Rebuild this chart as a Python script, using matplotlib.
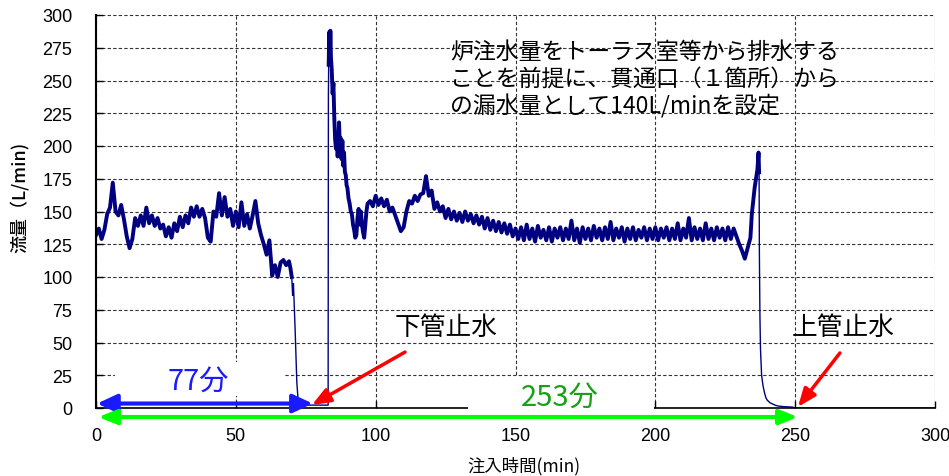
import numpy as np
import matplotlib.pyplot as plt
from matplotlib.patches import Rectangle

plt.rcParams['font.family'] = ['Noto Sans CJK JP', 'DejaVu Sans']

# 注水開始～下管止水 (1分毎)
time_a = list(range(0, 70))
flow_a = [132, 137, 129, 136, 148, 153, 172, 150, 147, 155,
          144, 131, 122, 129, 145, 139, 147, 139, 153, 141,
          147, 139, 145, 137, 140, 131, 138, 130, 141, 135,
          146, 138, 147, 141, 153, 146, 154, 146, 152, 145,
          130, 127, 150, 146, 164, 147, 161, 146, 152, 139,
          150, 138, 157, 139, 148, 137, 147, 158, 141, 132,
          125, 117, 128, 101, 109, 100, 111, 113, 109, 112]

# 下管止水後の低下
time_b = [69.5, 70.0, 70.3, 70.6, 70.9, 71.2, 71.5, 71.8, 72.2, 72.6, 73.0, 74.0, 83.0, 83.1]
flow_b = [107, 100, 86, 95, 78, 60, 40, 20, 8, 4, 2.5, 2.2, 2.2, 240]

# 再上昇のピーク
time_c = [83.2, 83.4, 83.6, 83.8, 84.0, 84.3, 84.6, 84.9, 85.2, 85.5, 85.8, 86.1, 86.4,
          86.7, 86.9, 87.2, 87.5, 87.8, 88.1, 88.4, 88.7, 89.0, 89.3, 89.6, 89.9, 90.3,
          90.7, 91.1, 91.5, 91.9, 92.3, 92.7, 93.1, 93.5, 93.9, 94.3, 94.7, 95.1, 95.5,
          95.9, 96.3, 96.7, 97.1]
flow_c = [262, 287, 265, 288, 268, 258, 240, 248, 222, 205, 198, 208, 192,
          205, 218, 200, 206, 190, 204, 185, 195, 180, 178, 170, 168, 160,
          156, 150, 148, 140, 136, 130, 132, 145, 152, 140, 150, 140, 134,
          130, 140, 150, 156]

# 98～233分 (1分毎)
time_d = list(range(98, 234))
flow_d = [158, 154, 162, 155, 160, 154, 159, 150, 153, 147,
          141, 135, 138, 150, 158, 156, 162, 158, 163, 164,
          177, 162, 166, 152, 157, 150, 154, 145, 152, 144,
          150, 143, 149, 142, 150, 143, 148, 141, 147, 140,
          146, 137, 145, 136, 143, 135, 142, 134, 141, 133,
          140, 131,
          137, 129, 138, 128, 140, 129, 137, 127, 139, 130,
          136, 128, 138, 127, 137, 130, 138, 128, 137, 129,
          143, 128, 137, 126, 138, 129, 137, 128, 139, 130,
          137, 128, 138, 129, 142, 128, 137, 130, 138, 127,
          137, 129, 138, 128, 136, 130, 138, 128, 137, 129,
          138, 128, 137, 130, 138, 128, 137, 129, 141, 128,
          137, 130, 145, 128, 138, 129, 137, 128, 141, 129,
          137, 128, 138, 130, 137, 128, 138, 129, 137, 131,
          125, 120, 114, 122]

# 上管止水直前の上昇
time_e = [234, 234.5, 235, 235.5, 236, 236.5, 236.9, 237.1]
flow_e = [130, 148, 158, 168, 175, 182, 195, 180]

# 上管止水後
time_f = [237.2, 237.4, 237.6, 237.8, 238.0, 238.5, 239.0, 239.5, 240, 241, 242, 243, 244, 246, 249, 250, 300]
flow_f = [120, 70, 45, 35, 25, 17, 12, 8, 6, 4, 3, 2, 1.5, 1, 0.7, 0, 0]

x_ticks = [0, 50, 100, 150, 200, 250, 300]
y_ticks = list(range(0, 301, 25))

note_lines = ["炉注水量をトーラス室等から排水する",
              "ことを前提に、貫通口（１箇所）から",
              "の漏水量として140L/minを設定"]

lower_stop = 77    # 下管止水 (分)
upper_stop = 253   # 上管止水 (分)

time = np.array(time_a + time_b + time_c + time_d + time_e + time_f, dtype=float)
flow = np.array(flow_a + flow_b + flow_c + flow_d + flow_e + flow_f, dtype=float)

fig = plt.figure(figsize=(9.49, 4.77), dpi=100)
ax = fig.add_axes([96 / 949, 68 / 477, 839 / 949, 393 / 477])

navy = '#000080'
# 細線 (全体) + ノイズ帯 (太線)
ax.plot(time, flow, color=navy, lw=1.0, zorder=2)
noisy = (time <= 70) | ((time >= 83.2) & (time <= 237.1))
ax.plot(time, np.where(noisy, flow, np.nan), color=navy, lw=2.8, zorder=2)

ax.set_xlim(0, 300)
ax.set_ylim(0, 300)
ax.set_xticks(x_ticks)
ax.set_yticks(y_ticks)
ax.set_axisbelow(True)
ax.grid(True, linestyle=(0, (3, 2)), color='#333333', lw=0.8)
for s in ['top', 'right']:
    ax.spines[s].set_visible(False)
ax.spines['left'].set_linewidth(1.5)
ax.spines['bottom'].set_linewidth(1.2)
ax.tick_params(axis='both', direction='in', length=5, width=1, labelsize=13)
ax.tick_params(axis='y', pad=17)
ax.tick_params(axis='x', pad=13.5)
for lab in ax.get_xticklabels() + ax.get_yticklabels():
    lab.set_family('Liberation Sans')

fig.text(20 / 949, 1 - 197 / 477, '流量（L/min)', rotation=90, ha='center', va='center',
         fontsize=13, fontweight='medium')
fig.text(524 / 949, 1 - 466 / 477, '注入時間(min)', ha='center', va='center', fontsize=12.5)

# 注記
for i, line in enumerate(note_lines):
    ax.text(126.6, 272.5 - i * 20.6, line, fontsize=16.5, ha='left', va='center', zorder=5)

ax.text(125.1, 61.8, '下管止水', fontsize=18.5, ha='center', va='center', zorder=5)
ax.text(267.1, 61.8, '上管止水', fontsize=18.5, ha='center', va='center', zorder=5)

# 白抜きの文字枠
ax.add_patch(Rectangle((6.9, 9), 60.7, 26, facecolor='white', edgecolor='none', zorder=3))
ax.add_patch(Rectangle((133, -2), 66.5, 25.7, facecolor='white', edgecolor='none', zorder=3, clip_on=False))
ax.text(36.5, 20.6, f'{lower_stop}分', fontsize=21, color='#1a1aff', ha='center', va='center', zorder=5)
ax.text(165.9, 8.4, f'{upper_stop}分', fontsize=21, color='#18a018', ha='center', va='center', zorder=5)

# 両矢印
ax.annotate('', xy=(lower_stop + 0.5, 3.4), xytext=(0.4, 3.4),
            arrowprops=dict(arrowstyle='<|-|>,head_length=0.6,head_width=0.28', color='#1a1aff',
                            lw=3, shrinkA=0, shrinkB=0, mutation_scale=20),
            annotation_clip=False, zorder=6)
ax.annotate('', xy=(upper_stop - 2, -6.9), xytext=(0.8, -6.9),
            arrowprops=dict(arrowstyle='<|-|>,head_length=0.55,head_width=0.22', color='#00ff00',
                            lw=3, shrinkA=0, shrinkB=0, mutation_scale=20),
            annotation_clip=False, zorder=6)

# 赤矢印
ax.annotate('', xy=(77.2, 2.3), xytext=(110.5, 42.7),
            arrowprops=dict(arrowstyle='-|>,head_length=0.55,head_width=0.22', color='#ff0000',
                            lw=2.5, shrinkA=0, shrinkB=0, mutation_scale=20),
            annotation_clip=False, zorder=7)
ax.annotate('', xy=(251, 0.8), xytext=(266, 42),
            arrowprops=dict(arrowstyle='-|>,head_length=0.55,head_width=0.22', color='#ff0000',
                            lw=2.5, shrinkA=0, shrinkB=0, mutation_scale=20),
            annotation_clip=False, zorder=7)

fig.savefig('out.png', dpi=100)
